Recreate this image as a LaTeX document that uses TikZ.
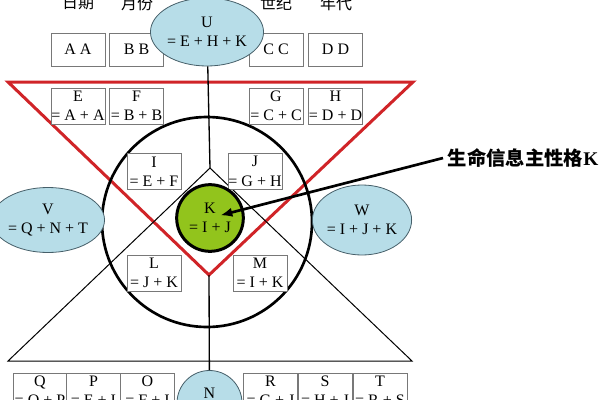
\documentclass[tikz,border=0pt]{standalone}
\usepackage{fontspec}
\setmainfont{Liberation Serif}
\newfontfamily\cjk{Noto Sans CJK SC}
\usetikzlibrary{shapes.geometric,arrows.meta}
\tikzset{every picture/.style={line width=0.75pt}}
\definecolor{triRed}{RGB}{208,36,40}
\definecolor{boxGray}{RGB}{120,120,120}
\definecolor{blobBlue}{RGB}{183,221,232}
\definecolor{blobEdge}{RGB}{70,95,105}
\definecolor{kGreen}{RGB}{146,196,28}

\begin{document}
\begin{tikzpicture}[x=0.75pt,y=0.75pt,yscale=-1,xscale=1,
  box/.style={draw=boxGray,fill=white,line width=0.6pt,inner sep=0pt,
    minimum width=40.5pt,minimum height=27pt,align=center,
    font=\fontsize{12}{14.5}\selectfont},
  topbox/.style={box,minimum height=24.75pt},
  blob/.style={ellipse,draw=blobEdge,fill=blobBlue,line width=0.6pt,
    inner sep=0pt,align=center,font=\fontsize{12}{14.5}\selectfont},
  head/.style={font=\cjk\fontsize{12}{12}\selectfont}]
\useasboundingbox (0,0) rectangle (600,400);
\clip (0,0) rectangle (600,400);
%Shape: Triangle
\draw [color=triRed,line width=2.25pt]  (8,82) -- (413,82) -- (209,275) -- cycle ;
%Shape: Triangle
\draw   (210,168) -- (412,361) -- (8,361) -- cycle ;
%Shape: Circle
\draw [line width=2pt]  (207,222) circle [radius=105] ;
\coordinate (apex) at (210,168);
\coordinate (vtx) at (209,275);

% Text Node
\node [head] (dayLbl) at (78,3) {日期};
% Text Node
\node [head] (monthLbl) at (137,3) {月份};
% Text Node
\node [head] (centLbl) at (276,3) {世纪};
% Text Node
\node [head] (yearLbl) at (336,3) {年代};

%Shape: Rectangle
\node [topbox] (AA) at (78,49.5) {A A};
\node [topbox] (BB) at (136.5,49.5) {B B};
\node [topbox] (CC) at (276,49.5) {C C};
\node [topbox] (DD) at (335.5,49.5) {D D};
%Shape: Rectangle
\node [box] (E) at (78,106) {E\\= A + A};
\node [box] (F) at (136.5,106) {F\\= B + B};
\node [box] (G) at (276,106) {G\\= C + C};
\node [box] (H) at (335.5,106) {H\\= D + D};
%Shape: Rectangle
\node [box] (I) at (154,171.5) {I\\= E + F};
\node [box] (J) at (255,171.5) {J\\= G + H};
\node [box] (L) at (154,273) {L\\= J + K};
\node [box] (M) at (260,273) {M\\= I + K};
%Shape: Rectangle
\node [box] (Q) at (40,391) {Q\\= O + P};
\node [box] (P) at (93.5,391) {P\\= E + I};
\node [box] (O) at (147.5,391) {O\\= F + I};
\node [box] (R) at (270.5,391) {R\\= G + J};
\node [box] (S) at (325,391) {S\\= H + J};
\node [box] (T) at (380,391) {T\\= R + S};

%Shape: Ellipse
\node [blob,minimum width=65.25pt,minimum height=51pt] (U) at (207,32) {U\\= E + H + K};
\node [blob,minimum width=69pt,minimum height=48.75pt] (V) at (48,220) {V\\= Q + N + T};
\node [blob,minimum width=74.25pt,minimum height=52.5pt] (W) at (362,220) {W\\= I + J + K};
\node [blob,circle,minimum size=48.75pt] (N) at (209.5,403) {N\\= L + M};

%Straight Lines
\draw [line width=1pt]  (U) -- (apex) ;
\draw [line width=1pt]  (vtx) -- (N) ;

%Shape: Circle
\node [circle,draw,line width=2.25pt,fill=kGreen,minimum size=50pt,inner sep=0pt,
  align=center,font=\fontsize{12}{14.5}\selectfont] (K) at (210,218) {K\\= I + J};

% Text Node
\node [anchor=west,font=\fontsize{14.5}{14.5}\selectfont] (lbl) at (443,158) {{\cjk\bfseries 生命信息主性格}\textbf{K}};
%Straight Lines
\draw [line width=2pt,-{Latex[length=9pt,width=7pt]},shorten >=8pt]  (lbl.west) -- (K.center) ;
\end{tikzpicture}
\end{document}
